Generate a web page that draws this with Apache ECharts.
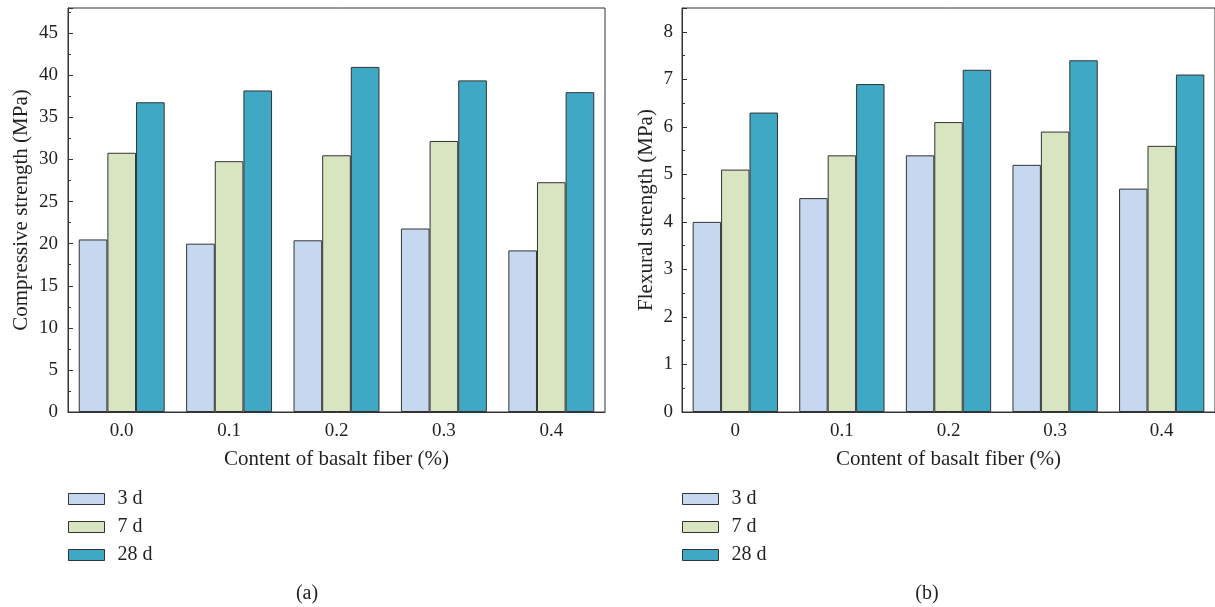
<!DOCTYPE html>
<html>
<head>
<meta charset="utf-8">
<script src="https://cdn.jsdelivr.net/npm/echarts@6/dist/echarts.min.js"></script>
<style>
  html, body { margin: 0; padding: 0; background: #fff; }
  #chart { width: 1215px; height: 607px; }
</style>
</head>
<body>
<div id="chart"></div>
<script>
// Basalt fiber content (%) on the x axis of each panel
const compressiveCategories = ['0.0', '0.1', '0.2', '0.3', '0.4'];
const flexuralCategories = ['0', '0.1', '0.2', '0.3', '0.4'];
const seriesNames = ['3 d', '7 d', '28 d'];

// Compressive strength (MPa) by curing age
const compressive3d = [20.5, 20.0, 20.4, 21.8, 19.2];
const compressive7d = [30.8, 29.8, 30.5, 32.2, 27.3];
const compressive28d = [36.8, 38.2, 41.0, 39.4, 38.0];

// Flexural strength (MPa) by curing age
const flexural3d = [4.0, 4.5, 5.4, 5.2, 4.7];
const flexural7d = [5.1, 5.4, 6.1, 5.9, 5.6];
const flexural28d = [6.3, 6.9, 7.2, 7.4, 7.1];

const colors = ['#c6d8ef', '#d9e4c1', '#3fa9c5'];
const FONT = '"Liberation Serif", "DejaVu Serif", serif';
const TEXT = '#231f20';
const LINE = '#333333';
const TICK_SIZE = 19;
const TITLE_SIZE = 21;

function valueAxis(gridIndex, max, interval, name, nameGap, margin) {
  return {
    type: 'value', gridIndex, min: 0, max, interval,
    name, nameLocation: 'middle', nameGap,
    nameTextStyle: { fontFamily: FONT, fontSize: TITLE_SIZE, color: TEXT },
    axisLine: { show: true, lineStyle: { color: LINE, width: 1 } },
    axisTick: { show: true, inside: true, length: 5, lineStyle: { color: LINE } },
    minorTick: { show: true, splitNumber: 2, length: 3, lineStyle: { color: LINE } },
    axisLabel: { fontFamily: FONT, fontSize: TICK_SIZE, color: TEXT, margin, showMaxLabel: false },
    splitLine: { show: false }
  };
}

function categoryAxis(gridIndex, data) {
  return {
    type: 'category', gridIndex, data,
    name: 'Content of basalt fiber (%)', nameLocation: 'middle', nameGap: 37,
    nameTextStyle: { fontFamily: FONT, fontSize: TITLE_SIZE, color: TEXT },
    axisLine: { show: true, lineStyle: { color: LINE, width: 1 } },
    axisTick: { show: false },
    axisLabel: { fontFamily: FONT, fontSize: TICK_SIZE, color: TEXT, margin: 10 }
  };
}

function barSeries(name, data, idx, axisIdx) {
  return {
    type: 'bar', name, data,
    xAxisIndex: axisIdx, yAxisIndex: axisIdx,
    barGap: '0%', barCategoryGap: '20%',
    itemStyle: { color: colors[idx], borderColor: LINE, borderWidth: 1 },
    emphasis: { disabled: true }
  };
}

function legend(left) {
  return {
    orient: 'vertical', left, top: 489, padding: 0,
    itemWidth: 36, itemHeight: 11, itemGap: 8,
    icon: 'rect',
    data: seriesNames,
    textStyle: { fontFamily: FONT, fontSize: 20, color: TEXT, lineHeight: 19, padding: [0, 0, 0, 8] },
    itemStyle: { borderColor: LINE, borderWidth: 1 },
    selectedMode: false
  };
}

const chart = echarts.init(document.getElementById('chart'), null, { renderer: 'canvas' });
chart.setOption({
  animation: false,
  backgroundColor: '#ffffff',
  color: colors,
  title: [
    { text: '(a)', left: 307, top: 584, textAlign: 'center', padding: 0,
      textStyle: { fontFamily: FONT, fontSize: 20, fontWeight: 'normal', color: TEXT } },
    { text: '(b)', left: 927, top: 584, textAlign: 'center', padding: 0,
      textStyle: { fontFamily: FONT, fontSize: 20, fontWeight: 'normal', color: TEXT } }
  ],
  grid: [
    { left: 68, width: 537, top: 8, bottom: 195, show: true, borderColor: LINE, borderWidth: 1, backgroundColor: 'transparent' },
    // the right frame edge lies just past the page edge
    { left: 682, width: 539, top: 8, bottom: 195, show: true, borderColor: LINE, borderWidth: 1, backgroundColor: 'transparent' }
  ],
  legend: [legend(68), legend(682)],
  xAxis: [
    categoryAxis(0, compressiveCategories),
    categoryAxis(1, flexuralCategories)
  ],
  yAxis: [
    valueAxis(0, 48, 5, 'Compressive strength (MPa)', 36, 10),
    valueAxis(1, 8.5, 1, 'Flexural strength (MPa)', 25, 9)
  ],
  series: [
    barSeries('3 d', compressive3d, 0, 0),
    barSeries('7 d', compressive7d, 1, 0),
    barSeries('28 d', compressive28d, 2, 0),
    barSeries('3 d', flexural3d, 0, 1),
    barSeries('7 d', flexural7d, 1, 1),
    barSeries('28 d', flexural28d, 2, 1)
  ]
});
</script>
</body>
</html>
